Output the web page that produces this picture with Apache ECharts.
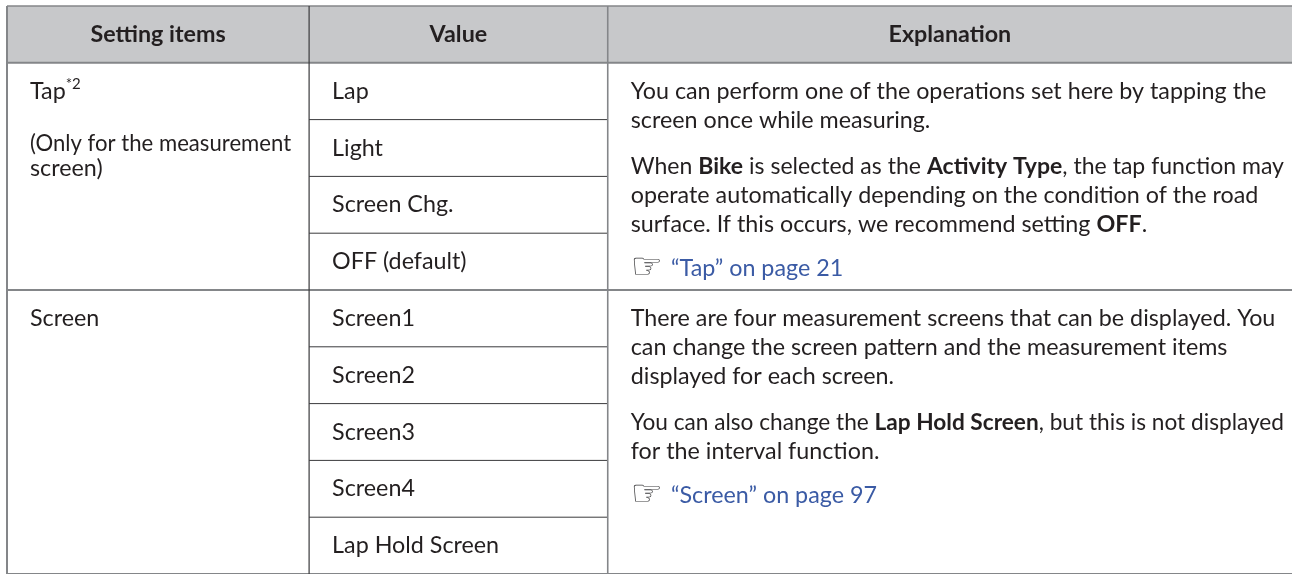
<!DOCTYPE html>
<html>
<head>
<meta charset="utf-8">
<script src="https://cdn.jsdelivr.net/npm/echarts@6/dist/echarts.min.js"></script>
<style>
html,body{margin:0;padding:0;background:#ffffff;}
#c{width:1292px;height:574px;}
</style>
</head>
<body>
<div id="c"></div>
<script>
// ---------------- data ----------------
const headers = ['Setting items', 'Value', 'Explanation'];
const settingItems = ['Tap', 'Screen'];
const settingNotes = ['*2', ''];
const tapSubtext = ['(Only for the measurement', 'screen)'];
const screenSubtext = [];
const tapValues = ['Lap', 'Light', 'Screen Chg.', 'OFF (default)'];
const screenValues = ['Screen1', 'Screen2', 'Screen3', 'Screen4', 'Lap Hold Screen'];
const tapExplanation = [
  ['You can perform one of the operations set here by tapping the', 'screen once while measuring.'],
  ['When {b|Bike} is selected as the {b|Activity Type}, the tap function may',
   'operate automatically depending on the condition of the road',
   'surface. If this occurs, we recommend setting {b|OFF}.']
];
const screenExplanation = [
  ['There are four measurement screens that can be displayed. You',
   'can change the screen pattern and the measurement items',
   'displayed for each screen.'],
  ['You can also change the {b|Lap Hold Screen}, but this is not displayed',
   'for the interval function.']
];
const tapReference = '\u201CTap\u201D on page 21';
const screenReference = '\u201CScreen\u201D on page 97';
const referenceMark = '\u261E';

// ---------------- layout / style ----------------
const FAMILY = 'Lato';
const ICON_FAMILY = 'DejaVu Sans';
const INK = '#231f20';
const ICON_INK = '#3a3a3c';
const LINK = '#3b5ba5';
const HEAD_BG = '#c7c8ca';
const RULE_MAJOR = '#848689';
const RULE_MINOR = '#3a3a3c';
const COL_EDGES = [0, 23.51, 46.75, 100];
const PAD = 23;
const RIGHT_PAD = [18, 14, 8];
const LINE_H = 29, PARA_GAP = 46, REF_GAP = 44, SUB_GAP = 52, SUB_LINE_H = 25;

function measure(style) {
  return new echarts.graphic.Text({ style: style }).getBoundingRect().width;
}
const FS = Math.round(100 * 637 / measure({ text: tapExplanation[0][0], fontFamily: FAMILY, fontSize: 100 }) * 10) / 10;
const ICON_FS = Math.round(FS * 1.55);

const RICH = {
  b: { fontFamily: FAMILY, fontSize: FS, fontWeight: 'bold', fill: INK, lineHeight: LINE_H },
  sup: { fontFamily: FAMILY, fontSize: Math.round(FS * 0.64), fill: INK, lineHeight: Math.round(FS * 0.64), verticalAlign: 'top' }
};

const groups = [
  { name: settingItems[0], note: settingNotes[0], sub: tapSubtext, values: tapValues, expl: tapExplanation, ref: tapReference },
  { name: settingItems[1], note: settingNotes[1], sub: screenSubtext, values: screenValues, expl: screenExplanation, ref: screenReference }
];

const iconWidth = measure({ text: referenceMark, fontFamily: ICON_FAMILY, fontSize: ICON_FS });

// text lines
const textLines = [];
headers.forEach(function (h, c) {
  textLines.push({ col: c, row: 0, dy: 0, text: h, align: 'center', bold: true, color: INK });
});
let r = 1;
groups.forEach(function (g) {
  textLines.push({ col: 0, row: r, dy: 0, text: g.name + (g.note ? '{sup|' + g.note + '}' : ''), align: 'left', color: INK });
  g.sub.forEach(function (s, i) {
    textLines.push({ col: 0, row: r, dy: SUB_GAP + i * SUB_LINE_H, text: s, align: 'left', color: INK });
  });
  g.values.forEach(function (v, i) {
    textLines.push({ col: 1, row: r + i, dy: 0, text: v, align: 'left', color: INK });
  });
  let dy = 0;
  g.expl.forEach(function (para) {
    para.forEach(function (line, li) {
      textLines.push({ col: 2, row: r, dy: dy, text: line, align: 'left', color: INK });
      if (li < para.length - 1) dy += LINE_H;
    });
    dy += PARA_GAP;
  });
  dy += REF_GAP - PARA_GAP;
  textLines.push({ col: 2, row: r, dy: dy, text: referenceMark, align: 'left', color: ICON_INK, family: ICON_FAMILY, size: ICON_FS });
  textLines.push({ col: 2, row: r, dy: dy, dx: iconWidth + 8, text: g.ref, align: 'left', color: LINK });
  g.r0 = r;
  r += g.values.length;
  g.r1 = r;
});
const totalRows = r;

// rules
const rules = [];
rules.push({ from: [0, 0], to: [100, 0], major: true, w: 1.5 });
rules.push({ from: [0, 1], to: [100, 1], major: true, w: 2 });
groups.forEach(function (g) {
  rules.push({ from: [0, g.r1], to: [100, g.r1], major: true, w: 2 });
  for (let i = 1; i < g.values.length; i++) {
    rules.push({ from: [COL_EDGES[1], g.r0 + i], to: [COL_EDGES[2], g.r0 + i], major: false, w: 1 });
  }
});
rules.push({ from: [COL_EDGES[0], 0], to: [COL_EDGES[0], totalRows], major: true, w: 2 });
rules.push({ from: [COL_EDGES[1], 0], to: [COL_EDGES[1], totalRows], major: false, w: 1.2 });
rules.push({ from: [COL_EDGES[2], 0], to: [COL_EDGES[2], totalRows], major: true, w: 1.6 });

// ---------------- chart ----------------
const chart = echarts.init(document.getElementById('c'), null, { renderer: 'canvas' });

chart.setOption({
  animation: false,
  backgroundColor: '#ffffff',
  grid: { left: 7, top: 6, width: 1293, height: 575 },
  xAxis: { type: 'value', min: 0, max: 100, show: false },
  yAxis: { type: 'value', min: 0, max: totalRows, inverse: true, show: false },
  series: [
    {
      type: 'custom', silent: true, z: 1,
      data: headers.map(function (h, i) { return [COL_EDGES[i], 0]; }),
      renderItem: function (params, api) {
        const c = params.dataIndex;
        const a = api.coord([COL_EDGES[c], 0]);
        const b = api.coord([COL_EDGES[c + 1], 1]);
        return { type: 'rect', shape: { x: a[0], y: a[1], width: b[0] - a[0], height: b[1] - a[1] }, style: { fill: HEAD_BG } };
      }
    },
    {
      type: 'custom', silent: true, z: 2,
      data: rules.map(function (l) { return l.from; }),
      renderItem: function (params, api) {
        const l = rules[params.dataIndex];
        const a = api.coord(l.from);
        const b = api.coord(l.to);
        return {
          type: 'line',
          shape: { x1: a[0], y1: a[1], x2: b[0], y2: b[1] },
          style: { stroke: l.major ? RULE_MAJOR : RULE_MINOR, lineWidth: l.w }
        };
      }
    },
    {
      type: 'custom', silent: true, z: 3,
      data: textLines.map(function (t) { return [COL_EDGES[t.col], t.row]; }),
      renderItem: function (params, api) {
        const t = textLines[params.dataIndex];
        const left = api.coord([COL_EDGES[t.col], t.row + 0.5]);
        const right = api.coord([COL_EDGES[t.col + 1], t.row + 0.5]);
        const x = t.align === 'center' ? (left[0] + right[0]) / 2 : left[0] + PAD + (t.dx || 0);
        const style = {
          text: t.text,
          fontFamily: t.family || FAMILY,
          fontSize: t.size || FS,
          fontWeight: t.bold ? 'bold' : 'normal',
          fill: t.color,
          align: t.align,
          verticalAlign: 'middle',
          lineHeight: LINE_H,
          rich: RICH
        };
        const w = measure(style);
        const maxW = right[0] - left[0] - PAD - RIGHT_PAD[t.col];
        const sx = (t.align === 'left' && w > maxW) ? maxW / w : 1;
        return { type: 'text', x: x, y: left[1] + t.dy, scaleX: sx, style: style };
      }
    }
  ]
});
</script>
</body>
</html>
